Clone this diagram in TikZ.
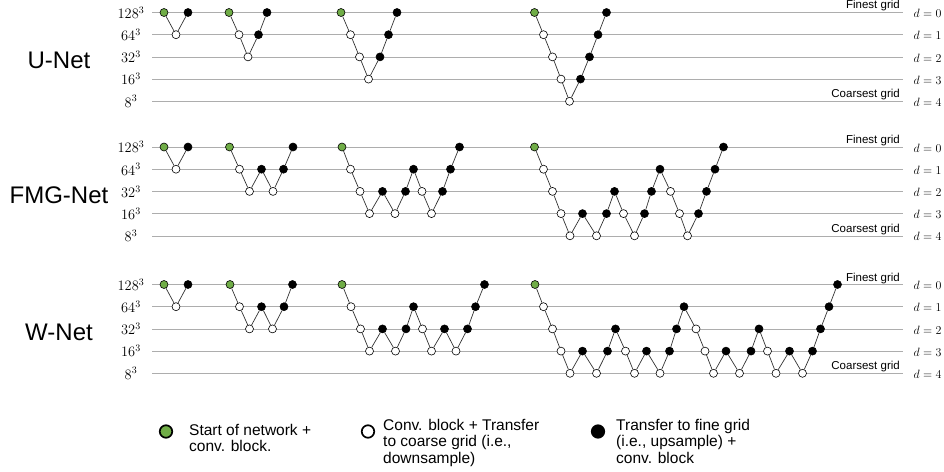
\documentclass[tikz,border=0pt]{standalone}
\usepackage{fontspec}
\newfontfamily\sanslab{Liberation Sans}
\usetikzlibrary{positioning}
\definecolor{startgreen}{HTML}{70AD47}

% one V/W-cycle: #1 name, #2 y of the finest grid, #3 list of x/depth
\newcommand{\vchain}[3]{%
  \foreach \x/\d [count=\i, remember=\d as \pd (initially 0)] in {#3} {
    \ifnum\i=1 \def\fillc{startgreen}\else
      \ifnum\d>\pd\relax \def\fillc{white}\else \def\fillc{black}\fi\fi
    \node[blk,fill=\fillc] (#1-\i) at ({\x},{#2+22.2*\d}) {};
    \ifnum\i>1
      \pgfmathtruncatemacro{\j}{\i-1}
      \draw[link] (#1-\j) -- (#1-\i);
    \fi
  }}

\begin{document}
\begin{tikzpicture}[
  x=1pt,y=-1pt,
  blk/.style={circle,draw,inner sep=0pt,minimum size=8pt,line width=.6pt},
  link/.style={line width=.7pt,black!80},
  gridline/.style={line width=.5pt,black!32},
  sizelab/.style={font=\fontsize{14}{16}\selectfont},
  dlab/.style={font=\fontsize{13}{15}\selectfont},
  gridtag/.style={font=\sanslab\fontsize{11.5}{13}\selectfont,anchor=base east,inner sep=0pt},
  netname/.style={font=\sanslab\fontsize{24}{28}\selectfont},
  key/.style={circle,draw,inner sep=0pt,minimum size=12.5pt,line width=1.7pt},
  keytext/.style={font=\sanslab\fontsize{15.5}{16.5}\selectfont,align=left,
    anchor=north west,inner sep=0pt}]
  \useasboundingbox (0,0) rectangle (944,471);

  % grid levels, sizes and names of the three panels
  \foreach \p/\y/\name in {u/12.5/U-Net,f/147/FMG-Net,w/284.5/W-Net} {
    \foreach \k in {0,...,4} {
      \draw[gridline] (152,{\y+22.2*\k}) -- (903,{\y+22.2*\k});
      \node[dlab] (\p-d\k) at (927.5,{\y+22.2*\k+1}) {$d=\k$};
    }
    \foreach \s [count=\k from 0] in {128,64,32,16,8}
      \node[sizelab] (\p-s\k) at (131,{\y+22.2*\k}) {$\s^3$};
    \node[gridtag] (\p-fine) at (900,{\y-3.5}) {Finest grid};
    \node[gridtag] (\p-coarse) at (900,{\y+85}) {Coarsest grid};
    \node[netname] (\p-name) at (59,{\y+48}) {\name};
  }

  % U-Net
  \vchain{u1}{12.5}{164/0,176/1,188/0}
  \vchain{u2}{12.5}{229/0,239/1,248/2,258.5/1,267/0}
  \vchain{u3}{12.5}{341/0,350.5/1,359.5/2,368.5/3,380/2,388.5/1,397/0}
  \vchain{u4}{12.5}{534.5/0,543.5/1,552.5/2,561/3,569.5/4,580.5/3,589.5/2,598/1,606.5/0}

  % FMG-Net
  \vchain{f1}{147}{164/0,176/1,188/0}
  \vchain{f2}{147}{229.5/0,239.5/1,249.5/2,261.5/1,273/2,283.5/1,293/0}
  \vchain{f3}{147}{342/0,350.5/1,360/2,369.5/3,382.5/2,395/3,405.5/2,413.5/1,422/2,
    431.5/3,442.5/2,450.5/1,459.5/0}
  \vchain{f4}{147}{534.5/0,543.5/1,552.5/2,561/3,570/4,582.5/3,596.5/4,606.5/3,614.5/2,
    623.5/3,634.5/4,644.5/3,651.5/2,660/1,670.5/2,679.5/3,687.5/4,698.5/3,706.5/2,
    715/1,723.5/0}

  % W-Net
  \vchain{w1}{284.5}{164/0,176/1,188/0}
  \vchain{w2}{284.5}{230/0,239.5/1,249.5/2,261.5/1,272.5/2,284/1,292.5/0}
  \vchain{w3}{284.5}{342/0,351/1,360.5/2,369.5/3,382.5/2,395.5/3,406/2,413.5/1,422.5/2,
    431.5/3,444.5/2,456/3,467.5/2,475.5/1,484.5/0}
  \vchain{w4}{284.5}{535/0,543.5/1,552.5/2,561/3,570/4,582.5/3,596.5/4,607.5/3,615.5/2,
    625.5/3,634.5/4,646.5/3,660/4,669.5/3,676.5/2,684/1,696/2,705/3,713.5/4,726/3,
    739.5/4,751/3,759/2,767.5/3,776/4,789.5/3,802.5/4,812.5/3,820.5/2,829/1,837.5/0}

  % legend
  \node[key,fill=startgreen] (key-start) at (166,431.5) {};
  \node[keytext] (key-start-txt) at (189,424) {Start of network +\\conv. block.};
  \node[key,fill=white] (key-down) at (368,431.5) {};
  \node[keytext] (key-down-txt) at (383,419) {Conv. block + Transfer\\to coarse grid (i.e.,\\downsample)};
  \node[key,fill=black] (key-up) at (598,431.5) {};
  \node[keytext] (key-up-txt) at (616,419) {Transfer to fine grid\\(i.e., upsample) +\\conv. block};
\end{tikzpicture}
\end{document}
